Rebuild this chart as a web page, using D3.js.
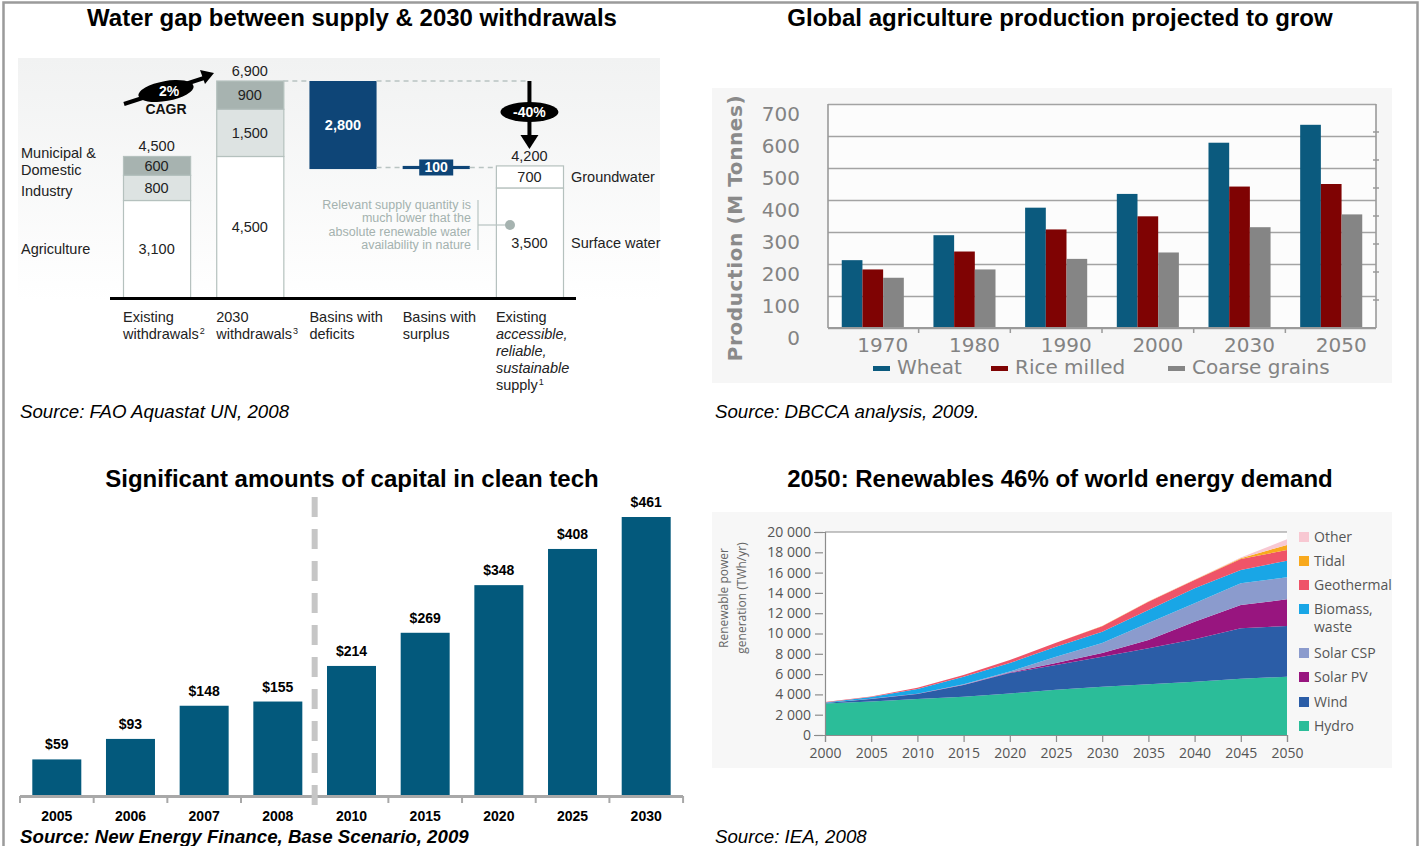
<!DOCTYPE html>
<html>
<head>
<meta charset="utf-8">
<script src="https://cdn.jsdelivr.net/npm/d3@7"></script>
<style>
  body { margin: 0; background: #fff; }
  svg { display: block; }
</style>
</head>
<body>
<svg id="page" width="1421" height="846"></svg>
<script>
// ---------- Water gap (km3) ----------
const waterCats = ["Existing", "2030", "Deficits", "Surplus", "Supply"];
const existingUse = [3100, 800, 600];      // agriculture, industry, municipal & domestic
const use2030 = [4500, 1500, 900];
const deficitGap = 2800;
const surplusGap = 100;
const supplyParts = [3500, 700];           // surface water, groundwater
const useLabels = ["Agriculture", "Industry", "Municipal &|Domestic"];
const supplyLabels = ["Surface water", "Groundwater"];

// ---------- Agriculture production (M tonnes) ----------
const cropYears = ["1970", "1980", "1990", "2000", "2030", "2050"];
const cropSeries = ["Wheat", "Rice milled", "Coarse grains"];
const wheat = [212, 290, 376, 419, 579, 635];
const riceMilled = [183, 239, 308, 349, 442, 450];
const coarseGrains = [157, 183, 216, 236, 315, 355];
const cropTicks = [0, 100, 200, 300, 400, 500, 600, 700];

// ---------- Clean tech investment ($bn) ----------
const capYears = ["2005", "2006", "2007", "2008", "2010", "2015", "2020", "2025", "2030"];
const capValues = [59, 93, 148, 155, 214, 269, 348, 408, 461];

// ---------- Renewable power generation (TWh/yr) ----------
const energyYears = [2000, 2005, 2010, 2015, 2020, 2025, 2030, 2035, 2040, 2045, 2050];
const energyKeys = ["Hydro", "Wind", "Solar PV", "Solar CSP", "Biomass, waste", "Geothermal", "Tidal", "Other"];
const hydro      = [3100, 3300, 3550, 3780, 4100, 4450, 4750, 5000, 5250, 5550, 5750];
const wind       = [50, 250, 490, 1150, 2000, 2450, 2970, 3540, 4180, 4960, 4990];
const solarPV    = [0, 10, 20, 30, 50, 190, 350, 820, 1740, 2300, 2630];
const solarCSP   = [0, 0, 10, 30, 100, 630, 990, 1670, 1800, 2130, 2160];
const biomass    = [50, 190, 460, 760, 840, 980, 1120, 1290, 1480, 1320, 1640];
const geothermal = [50, 50, 120, 150, 300, 390, 540, 810, 820, 1080, 1060];
const tidal      = [0, 0, 0, 0, 0, 0, 10, 20, 30, 80, 490];
const otherRen   = [0, 0, 0, 0, 0, 0, 10, 20, 30, 60, 560];
const energyTicks = [0, 2000, 4000, 6000, 8000, 10000, 12000, 14000, 16000, 18000, 20000];

const SANS = "'Liberation Sans', Arial, Helvetica, sans-serif";
const ROUND = "'Open Sans', 'DejaVu Sans', sans-serif";
const DEJA = "'DejaVu Sans', Verdana, sans-serif";

const svg = d3.select("#page");

// page frame
svg.append("rect")
  .attr("x", 3.5).attr("y", 2.5).attr("width", 1414).attr("height", 880)
  .attr("fill", "none").attr("stroke", "#9b9b9b").attr("stroke-width", 2.5);

// panel titles
const titles = [
  { t: "Water gap between supply & 2030 withdrawals", x: 352, y: 26 },
  { t: "Global agriculture production projected to grow", x: 1060, y: 26 },
  { t: "Significant amounts of capital in clean tech", x: 352, y: 487 },
  { t: "2050: Renewables 46% of world energy demand", x: 1060, y: 487 }
];
svg.selectAll("text.title").data(titles).join("text")
  .attr("class", "title")
  .attr("x", d => d.x).attr("y", d => d.y)
  .attr("text-anchor", "middle")
  .attr("font-family", SANS).attr("font-weight", "bold").attr("font-size", 24)
  .attr("fill", "#000")
  .text(d => d.t);

// sources
const sources = [
  { t: "Source: FAO Aquastat UN, 2008", x: 20, y: 418, bold: false },
  { t: "Source: DBCCA analysis, 2009.", x: 715, y: 418, bold: false },
  { t: "Source: New Energy Finance, Base Scenario, 2009", x: 20, y: 843, bold: true },
  { t: "Source: IEA, 2008", x: 715, y: 843, bold: false }
];
svg.selectAll("text.src").data(sources).join("text")
  .attr("class", "src")
  .attr("x", d => d.x).attr("y", d => d.y)
  .attr("font-family", SANS).attr("font-style", "italic")
  .attr("font-weight", d => d.bold ? "bold" : "normal")
  .attr("font-size", 18.7).attr("fill", "#000")
  .text(d => d.t);

const fmtK = d3.format(",");

// =============== Water gap waterfall ===============
(function drawWater() {
  const g = svg.append("g");
  const defs = svg.append("defs");
  const grad = defs.append("linearGradient").attr("id", "waterBg")
    .attr("x1", 0).attr("y1", 0).attr("x2", 0).attr("y2", 1);
  grad.append("stop").attr("offset", "0%").attr("stop-color", "#f1f2f2");
  grad.append("stop").attr("offset", "100%").attr("stop-color", "#ffffff");
  g.append("rect").attr("x", 18).attr("y", 58).attr("width", 642).attr("height", 244)
    .attr("fill", "url(#waterBg)");

  const xW = d3.scaleBand().domain(waterCats).range([123, 563]).paddingInner(0.28);
  const yW = d3.scaleLinear().domain([0, 6900]).range([298, 81]);
  const bw = xW.bandwidth();
  const segFill = ["#ffffff", "#dde3e2", "#a7b3b0"];
  const edge = "#b5c1be";
  const txt = { "font-family": SANS, "font-size": 14.5, fill: "#222" };
  const applyTxt = (sel, o) => { Object.entries(o).forEach(([k, v]) => sel.attr(k, v)); return sel; };

  const stackSegs = vals => { let c = 0; return vals.map(v => { const s = { y0: c, y1: c + v, v }; c += v; return s; }); };

  const withdrawalBars = [["Existing", existingUse], ["2030", use2030]];
  withdrawalBars.forEach(([cat, vals]) => {
    const segs = stackSegs(vals);
    segs.forEach((s, i) => {
      g.append("rect")
        .attr("x", xW(cat) + 0.5).attr("width", bw)
        .attr("y", yW(s.y1)).attr("height", yW(s.y0) - yW(s.y1))
        .attr("fill", segFill[i]).attr("stroke", edge).attr("stroke-width", 1.2);
      applyTxt(g.append("text"), txt)
        .attr("x", xW(cat) + bw / 2).attr("y", (yW(s.y0) + yW(s.y1)) / 2 + 5)
        .attr("text-anchor", "middle").text(fmtK(s.v));
    });
    const total = d3.sum(vals);
    applyTxt(g.append("text"), txt)
      .attr("x", xW(cat) + bw / 2).attr("y", yW(total) - 5)
      .attr("text-anchor", "middle").text(fmtK(total));
  });

  // labels for the withdrawal components, left of the first bar
  const exSegs = stackSegs(existingUse);
  const labelShift = [5, 8, 0];
  useLabels.forEach((lab, i) => {
    const mid = (yW(exSegs[i].y0) + yW(exSegs[i].y1)) / 2;
    const lines = lab.split("|");
    if (lines.length === 1) {
      applyTxt(g.append("text"), txt).attr("x", 21).attr("y", mid + labelShift[i]).text(lines[0]);
    } else {
      applyTxt(g.append("text"), txt).attr("x", 21).attr("y", mid - 8).text(lines[0]);
      applyTxt(g.append("text"), txt).attr("x", 21).attr("y", mid + 9).text(lines[1]);
    }
  });

  const total2030 = d3.sum(use2030);
  const afterDeficit = total2030 - deficitGap;
  const supplyTotal = d3.sum(supplyParts);

  // deficit block
  g.append("rect")
    .attr("x", xW("Deficits")).attr("width", bw)
    .attr("y", yW(total2030)).attr("height", yW(afterDeficit) - yW(total2030))
    .attr("fill", "#0e4577");
  g.append("text")
    .attr("x", xW("Deficits") + bw / 2).attr("y", (yW(total2030) + yW(afterDeficit)) / 2 + 5)
    .attr("text-anchor", "middle").attr("font-family", SANS).attr("font-weight", "bold")
    .attr("font-size", 14.5).attr("fill", "#fff").text(fmtK(deficitGap));

  // surplus sliver with its value tag
  g.append("rect")
    .attr("x", xW("Surplus")).attr("width", bw)
    .attr("y", yW(afterDeficit + surplusGap)).attr("height", yW(afterDeficit) - yW(afterDeficit + surplusGap))
    .attr("fill", "#0e4577");
  const sMid = (yW(afterDeficit) + yW(afterDeficit + surplusGap)) / 2;
  g.append("rect")
    .attr("x", xW("Surplus") + bw / 2 - 17).attr("y", sMid - 8).attr("width", 34).attr("height", 16)
    .attr("fill", "#0e4577");
  g.append("text")
    .attr("x", xW("Surplus") + bw / 2).attr("y", sMid + 5)
    .attr("text-anchor", "middle").attr("font-family", SANS).attr("font-weight", "bold")
    .attr("font-size", 14).attr("fill", "#fff").text(fmtK(surplusGap));

  // supply bar
  stackSegs(supplyParts).forEach((s, i) => {
    g.append("rect")
      .attr("x", xW("Supply") + 0.5).attr("width", bw)
      .attr("y", yW(s.y1)).attr("height", yW(s.y0) - yW(s.y1))
      .attr("fill", "#fff").attr("stroke", edge).attr("stroke-width", 1.2);
    const mid = (yW(s.y0) + yW(s.y1)) / 2;
    applyTxt(g.append("text"), txt)
      .attr("x", xW("Supply") + bw / 2).attr("y", mid + 5)
      .attr("text-anchor", "middle").text(fmtK(s.v));
    applyTxt(g.append("text"), txt)
      .attr("x", xW("Supply") + bw + 8).attr("y", mid + 5)
      .text(supplyLabels[i]);
  });
  applyTxt(g.append("text"), txt)
    .attr("x", xW("Supply") + bw / 2).attr("y", yW(supplyTotal) - 5)
    .attr("text-anchor", "middle").text(fmtK(supplyTotal));

  // connector dashes
  const arrowX = xW("Supply") + bw / 2;
  const dash = (x1, x2, y) => g.append("line")
    .attr("x1", x1).attr("x2", x2).attr("y1", y).attr("y2", y)
    .attr("stroke", "#b9c4c2").attr("stroke-width", 1.5).attr("stroke-dasharray", "5,4");
  dash(xW("2030") + bw, xW("Deficits"), yW(total2030));
  dash(xW("Deficits") + bw, arrowX, yW(total2030));
  dash(xW("Deficits") + bw, xW("Surplus"), sMid);
  dash(xW("Surplus") + bw, xW("Supply"), sMid);

  // baseline
  g.append("line").attr("x1", 110).attr("x2", 576).attr("y1", 298.5).attr("y2", 298.5)
    .attr("stroke", "#000").attr("stroke-width", 3);

  // -40% arrow
  const tipY = yW(supplyTotal) - 17;
  g.append("line").attr("x1", arrowX).attr("x2", arrowX)
    .attr("y1", yW(total2030)).attr("y2", tipY - 10)
    .attr("stroke", "#000").attr("stroke-width", 4);
  g.append("path")
    .attr("d", `M${arrowX - 9},${tipY - 14} L${arrowX + 9},${tipY - 14} L${arrowX},${tipY} Z`)
    .attr("fill", "#000");
  g.append("ellipse").attr("cx", arrowX).attr("cy", 112).attr("rx", 29).attr("ry", 10)
    .attr("fill", "#000");
  g.append("text").attr("x", arrowX).attr("y", 117).attr("text-anchor", "middle")
    .attr("font-family", SANS).attr("font-weight", "bold").attr("font-size", 14)
    .attr("fill", "#fff").text("-40%");

  // 2% CAGR arrow
  g.append("line").attr("x1", 124).attr("y1", 104).attr("x2", 204).attr("y2", 78)
    .attr("stroke", "#000").attr("stroke-width", 4);
  g.append("path").attr("d", "M200,70 L214,73 L205,84 Z").attr("fill", "#000");
  g.append("ellipse").attr("cx", 166).attr("cy", 91).attr("rx", 28).attr("ry", 10)
    .attr("transform", "rotate(-10,166,91)").attr("fill", "#000");
  g.append("text").attr("x", 169).attr("y", 96).attr("text-anchor", "middle")
    .attr("font-family", SANS).attr("font-weight", "bold").attr("font-size", 14)
    .attr("fill", "#fff").text("2%");
  g.append("text").attr("x", 166).attr("y", 114).attr("text-anchor", "middle")
    .attr("font-family", SANS).attr("font-weight", "bold").attr("font-size", 14)
    .attr("fill", "#111").text("CAGR");

  // note on available supply
  const note = ["Relevant supply quantity is", "much lower that the", "absolute renewable water", "availability in nature"];
  note.forEach((ln, i) => {
    g.append("text").attr("x", 471).attr("y", 209 + i * 13.3).attr("text-anchor", "end")
      .attr("font-family", SANS).attr("font-size", 12.5).attr("fill", "#a4b2af").text(ln);
  });
  g.append("line").attr("x1", 478).attr("x2", 478).attr("y1", 200).attr("y2", 250)
    .attr("stroke", "#b8c4c1").attr("stroke-width", 1.2);
  g.append("line").attr("x1", 478).attr("x2", 510).attr("y1", 225).attr("y2", 225)
    .attr("stroke", "#b8c4c1").attr("stroke-width", 1.2);
  g.append("circle").attr("cx", 510).attr("cy", 225).attr("r", 5).attr("fill", "#a6b3b0");

  // category labels
  const catLines = {
    "Existing": [["Existing"], ["withdrawals", "2"]],
    "2030": [["2030"], ["withdrawals", "3"]],
    "Deficits": [["Basins with"], ["deficits"]],
    "Surplus": [["Basins with"], ["surplus"]],
    "Supply": [["Existing"], ["accessible,", null, true], ["reliable,", null, true], ["sustainable", null, true], ["supply", "1"]]
  };
  waterCats.forEach(c => {
    catLines[c].forEach((ln, i) => {
      const t = g.append("text").attr("x", xW(c)).attr("y", 322 + i * 17)
        .attr("font-family", SANS).attr("font-size", 14.5).attr("fill", "#222")
        .attr("font-style", ln[2] ? "italic" : "normal");
      t.append("tspan").text(ln[0]);
      if (ln[1]) t.append("tspan").attr("font-size", 9).attr("dy", -5).attr("dx", 1).text(ln[1]);
    });
  });
})();

// =============== Agriculture grouped bars ===============
(function drawCrops() {
  const g = svg.append("g");
  const left = 828, right = 1376, top = 104, bottom = 328;
  g.append("rect").attr("x", 712).attr("y", 88).attr("width", 680).attr("height", 295).attr("fill", "#f6f6f6");
  g.append("rect").attr("x", left).attr("y", top).attr("width", right - left).attr("height", bottom - top).attr("fill", "#fcfcfc");

  const x0 = d3.scaleBand().domain(cropYears).range([left, right]).paddingInner(0.323).paddingOuter(0.15);
  const x1 = d3.scaleBand().domain(cropSeries).range([0, x0.bandwidth()]);
  const yA = d3.scaleLinear().domain([0, 700]).range([bottom, top]);
  const color = d3.scaleOrdinal().domain(cropSeries).range(["#0b5a7e", "#7f0303", "#858585"]);
  const seriesVals = { "Wheat": wheat, "Rice milled": riceMilled, "Coarse grains": coarseGrains };

  // gridlines
  const grid = g.append("g").attr("transform", `translate(${left},0)`)
    .call(d3.axisLeft(yA).tickValues(cropTicks).tickSize(-(right - left)).tickFormat(""));
  grid.select(".domain").remove();
  grid.selectAll(".tick line").attr("stroke", "#a3a3a3").attr("stroke-width", 1.6);

  // bars
  cropYears.forEach((yr, i) => {
    g.append("g").attr("transform", `translate(${x0(yr)},0)`)
      .selectAll("rect").data(cropSeries).join("rect")
      .attr("x", s => x1(s)).attr("width", x1.bandwidth())
      .attr("y", s => yA(seriesVals[s][i])).attr("height", s => yA(0) - yA(seriesVals[s][i]))
      .attr("fill", s => color(s));
  });

  // axis frame lines
  g.append("line").attr("x1", left).attr("x2", left).attr("y1", top).attr("y2", bottom).attr("stroke", "#9a9a9a").attr("stroke-width", 1.6);
  g.append("line").attr("x1", right).attr("x2", right).attr("y1", top).attr("y2", bottom).attr("stroke", "#9a9a9a").attr("stroke-width", 1.6);
  g.append("line").attr("x1", left).attr("x2", right).attr("y1", bottom).attr("y2", bottom).attr("stroke", "#9a9a9a").attr("stroke-width", 2);

  // separators under the x axis
  const step = x0.step();
  cropYears.slice(1).forEach(yr => {
    const xs = x0(yr) - (step - x0.bandwidth()) / 2;
    g.append("line").attr("x1", xs).attr("x2", xs).attr("y1", bottom).attr("y2", bottom + 5)
      .attr("stroke", "#9a9a9a").attr("stroke-width", 1.5);
  });
  // secondary ticks on the right edge
  const yR = d3.scaleLinear().domain([0, 8]).range([bottom, top]);
  d3.range(1, 8).forEach(k => {
    g.append("line").attr("x1", right - 3).attr("x2", right + 3).attr("y1", yR(k)).attr("y2", yR(k))
      .attr("stroke", "#9a9a9a").attr("stroke-width", 1.5);
  });

  // y tick labels
  const ya = g.append("g").attr("transform", `translate(${left},0)`)
    .call(d3.axisLeft(yA).tickValues(cropTicks).tickSize(0).tickPadding(28));
  ya.select(".domain").remove();
  ya.selectAll("text").attr("font-family", DEJA).attr("font-size", 20).attr("fill", "#838383")
    .attr("dy", "0.8em");

  // x tick labels
  const xa = g.append("g").attr("transform", `translate(10,${bottom})`)
    .call(d3.axisBottom(x0).tickSize(0).tickPadding(10));
  xa.select(".domain").remove();
  xa.selectAll("text").attr("font-family", DEJA).attr("font-size", 20).attr("fill", "#838383");

  // y title
  g.append("text").attr("transform", "translate(742,228) rotate(-90)")
    .attr("text-anchor", "middle").attr("font-family", DEJA).attr("font-weight", "bold")
    .attr("font-size", 20).attr("letter-spacing", 0.6).attr("fill", "#8a8a8a")
    .text("Production (M Tonnes)");

  // legend
  const legX = [873, 991, 1168];
  cropSeries.forEach((s, i) => {
    g.append("rect").attr("x", legX[i]).attr("y", 366).attr("width", 17).attr("height", 5).attr("fill", color(s));
    g.append("text").attr("x", legX[i] + 24).attr("y", 374)
      .attr("font-family", DEJA).attr("font-size", 20).attr("fill", "#838383").text(s);
  });
})();

// =============== Clean tech capital bars ===============
(function drawCapital() {
  const g = svg.append("g");
  const xC = d3.scaleBand().domain(capYears).range([20, 683]).paddingInner(0.335).paddingOuter(0.167);
  const yC = d3.scaleLinear().domain([0, 461]).range([795, 517]);

  g.selectAll("rect.bar").data(capYears).join("rect")
    .attr("class", "bar")
    .attr("x", d => xC(d)).attr("width", xC.bandwidth())
    .attr("y", (d, i) => yC(capValues[i])).attr("height", (d, i) => yC(0) - yC(capValues[i]))
    .attr("fill", "#03597c");

  g.selectAll("text.val").data(capYears).join("text")
    .attr("class", "val")
    .attr("x", d => xC(d) + xC.bandwidth() / 2)
    .attr("y", (d, i) => yC(capValues[i]) - 10)
    .attr("text-anchor", "middle").attr("font-family", SANS).attr("font-weight", "bold")
    .attr("font-size", 14).attr("fill", "#000")
    .text((d, i) => "$" + capValues[i]);

  // axis line and separators
  g.append("line").attr("x1", 20).attr("x2", 683).attr("y1", 796.5).attr("y2", 796.5)
    .attr("stroke", "#a8a8a8").attr("stroke-width", 3);
  const step = xC.step();
  d3.range(0, capYears.length + 1).forEach(k => {
    const xs = 20 + k * step;
    g.append("line").attr("x1", xs).attr("x2", xs).attr("y1", 796).attr("y2", 803)
      .attr("stroke", "#a8a8a8").attr("stroke-width", 2);
  });

  const xa = g.append("g").attr("transform", "translate(0,796)")
    .call(d3.axisBottom(xC).tickSize(0).tickPadding(15));
  xa.select(".domain").remove();
  xa.selectAll("text").attr("font-family", SANS).attr("font-weight", "bold")
    .attr("font-size", 14).attr("fill", "#000");

  // history / forecast divider
  const divX = xC("2010") - (step - xC.bandwidth()) / 2;
  g.append("line").attr("x1", divX).attr("x2", divX).attr("y1", 497).attr("y2", 810)
    .attr("stroke", "#c6c6c6").attr("stroke-width", 6).attr("stroke-dasharray", "20,12");
})();

// =============== Renewable generation stacked area ===============
(function drawEnergy() {
  const g = svg.append("g");
  const left = 825, right = 1287, top = 532, bottom = 735;
  g.append("rect").attr("x", 712).attr("y", 512).attr("width", 680).attr("height", 256).attr("fill", "#f7f7f7");
  g.append("rect").attr("x", left).attr("y", top).attr("width", right - left).attr("height", bottom - top).attr("fill", "#ffffff");

  const xE = d3.scaleLinear().domain([2000, 2050]).range([left, right]);
  const yE = d3.scaleLinear().domain([0, 20000]).range([bottom, top]);
  const cols = {
    "Hydro": hydro, "Wind": wind, "Solar PV": solarPV, "Solar CSP": solarCSP,
    "Biomass, waste": biomass, "Geothermal": geothermal, "Tidal": tidal, "Other": otherRen
  };
  const colors = d3.scaleOrdinal().domain(energyKeys)
    .range(["#2bbd99", "#2b5da7", "#98157f", "#8b9bcd", "#19a6e6", "#ef5468", "#f8a91d", "#f8c8d2"]);
  const rows = energyYears.map((yr, i) => {
    const r = { year: yr };
    energyKeys.forEach(k => { r[k] = cols[k][i]; });
    return r;
  });
  const stacked = d3.stack().keys(energyKeys)(rows);
  const area = d3.area()
    .x(d => xE(d.data.year)).y0(d => yE(d[0])).y1(d => yE(d[1]));

  g.selectAll("path.layer").data(stacked).join("path")
    .attr("class", "layer").attr("d", area).attr("fill", d => colors(d.key));

  // top frame line
  g.append("line").attr("x1", left).attr("x2", right).attr("y1", top).attr("y2", top)
    .attr("stroke", "#8c8c8c").attr("stroke-width", 1.2);

  const spaceFmt = d3.formatLocale({ decimal: ".", thousands: "\u00a0", grouping: [3], currency: ["", ""] }).format(",");
  const ya = g.append("g").attr("transform", `translate(${left},0)`)
    .call(d3.axisLeft(yE).tickValues(energyTicks).tickFormat(spaceFmt).tickSize(11).tickPadding(3));
  ya.select(".domain").attr("stroke", "#8c8c8c").attr("stroke-width", 1.2);
  ya.selectAll(".tick line").attr("stroke", "#8c8c8c").attr("stroke-width", 1.2).attr("x2", -10).attr("x1", -2);
  ya.selectAll("text").attr("font-family", ROUND).attr("font-size", 14).attr("fill", "#555");

  const xa = g.append("g").attr("transform", `translate(0,${bottom})`)
    .call(d3.axisBottom(xE).tickValues(energyYears).tickFormat(d3.format("d")).tickSize(7).tickPadding(6));
  xa.select(".domain").attr("stroke", "#8c8c8c").attr("stroke-width", 1.2);
  xa.selectAll(".tick line").attr("stroke", "#8c8c8c").attr("stroke-width", 1.2);
  xa.selectAll("text").attr("font-family", ROUND).attr("font-size", 14).attr("fill", "#555");

  // y title
  const yt = g.append("text").attr("transform", "translate(728,598) rotate(-90)")
    .attr("text-anchor", "middle").attr("font-family", ROUND).attr("font-size", 12).attr("fill", "#666");
  yt.append("tspan").attr("x", 0).attr("dy", 0).text("Renewable power");
  yt.append("tspan").attr("x", 0).attr("dy", 18).text("generation (TWh/yr)");

  // legend, top layer first
  const legendRows = [
    { k: "Other", y: 537 }, { k: "Tidal", y: 561 }, { k: "Geothermal", y: 585 },
    { k: "Biomass, waste", y: 609, split: ["Biomass,", "waste"] }, { k: "Solar CSP", y: 653 },
    { k: "Solar PV", y: 677 }, { k: "Wind", y: 702 }, { k: "Hydro", y: 726 }
  ];
  legendRows.forEach(r => {
    g.append("rect").attr("x", 1299).attr("y", r.y - 5).attr("width", 10).attr("height", 10).attr("fill", colors(r.k));
    const lines = r.split || [r.k];
    lines.forEach((ln, j) => {
      g.append("text").attr("x", 1314).attr("y", r.y + 5 + j * 18)
        .attr("font-family", ROUND).attr("font-size", 14).attr("fill", "#555").text(ln);
    });
  });
})();
</script>
</body>
</html>
